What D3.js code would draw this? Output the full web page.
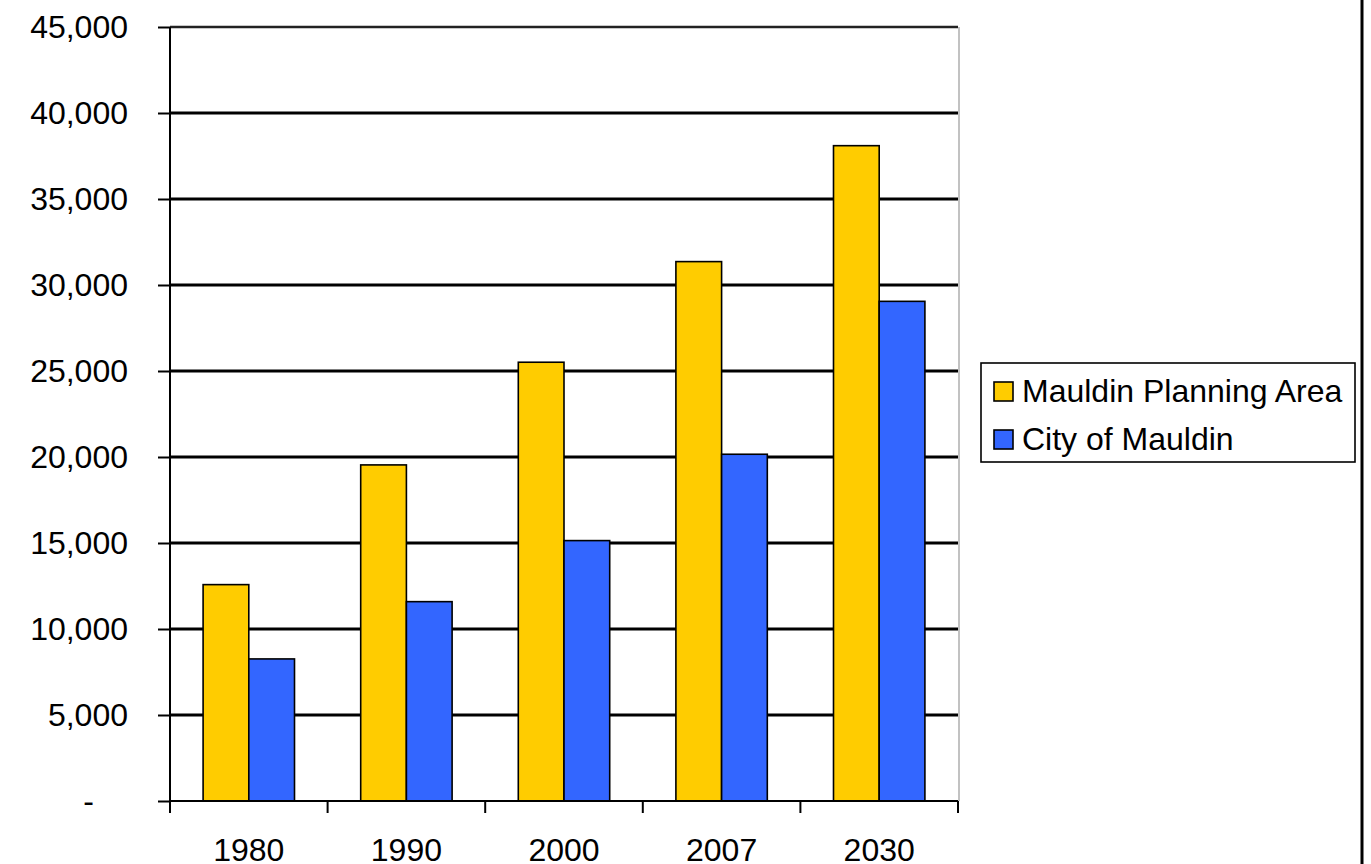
<!DOCTYPE html>
<html>
<head>
<meta charset="utf-8">
<script src="https://cdnjs.cloudflare.com/ajax/libs/d3/7.8.5/d3.min.js"></script>
<style>
  body { margin: 0; background: #fff; }
  text { font-family: "Liberation Sans", Arial, sans-serif; fill: #000; }
</style>
</head>
<body>
<svg id="chart" width="1371" height="864"></svg>
<script>

var years = ["1980", "1990", "2000", "2007", "2030"];
var planningArea = [12580, 19540, 25510, 31360, 38100];
var cityOfMauldin = [8260, 11590, 15140, 20160, 29050];
var seriesNames = ["Mauldin Planning Area", "City of Mauldin"];
var seriesColors = ["#FFCC00", "#3366FF"];
var yTicks = [0, 5000, 10000, 15000, 20000, 25000, 30000, 35000, 40000, 45000];

var svg = d3.select("#chart");
var plotLeft = 170, plotRight = 958, plotTop = 27, plotBottom = 801;

var x0 = d3.scaleBand()
    .domain(years)
    .range([plotLeft, plotRight])
    .paddingInner(0.42)
    .paddingOuter(0.21);

var x1 = d3.scaleBand()
    .domain(d3.range(seriesNames.length))
    .range([0, x0.bandwidth()]);

var y = d3.scaleLinear()
    .domain([0, 45000])
    .range([plotBottom, plotTop]);

// gridlines (behind bars)
svg.append("g")
  .selectAll("line")
  .data(yTicks.filter(function(d) { return d > 0; }))
  .enter().append("line")
    .attr("x1", plotLeft)
    .attr("x2", plotRight)
    .attr("y1", function(d) { return y(d); })
    .attr("y2", function(d) { return y(d); })
    .attr("stroke", function(d) { return d === 45000 ? "#222" : "#000"; })
    .attr("stroke-width", function(d) { return d === 45000 ? 2.5 : 3; });

// right edge of plot area
svg.append("line")
    .attr("x1", plotRight + 1).attr("x2", plotRight + 1)
    .attr("y1", y(45000)).attr("y2", y(0))
    .attr("stroke", "#999")
    .attr("stroke-width", 1.2);

// bars
var rows = years.map(function(yr, i) {
  return { year: yr, values: [planningArea[i], cityOfMauldin[i]] };
});

svg.append("g")
  .selectAll("g")
  .data(rows)
  .enter().append("g")
    .attr("transform", function(d) { return "translate(" + x0(d.year) + ",0)"; })
  .selectAll("rect")
  .data(function(d) { return d.values; })
  .enter().append("rect")
    .attr("x", function(d, i) { return x1(i); })
    .attr("width", x1.bandwidth())
    .attr("y", function(d) { return y(d); })
    .attr("height", function(d) { return y(0) - y(d); })
    .attr("fill", function(d, i) { return seriesColors[i]; })
    .attr("stroke", "#000")
    .attr("stroke-width", 1.6);

// y axis
var yAxis = svg.append("g")
    .attr("transform", "translate(" + plotLeft + ",0)")
    .call(d3.axisLeft(y)
      .tickValues(yTicks)
      .tickSize(12)
      .tickSizeOuter(0)
      .tickPadding(30)
      .tickFormat(function(d) { return d === 0 ? "-" : d3.format(",")(d); }));

yAxis.select(".domain").remove();
yAxis.selectAll(".tick line").attr("stroke", "#000").attr("stroke-width", 2);
yAxis.selectAll("text").style("font-size", "32px");
yAxis.selectAll(".tick").filter(function(d) { return d === 0; })
    .select("text").attr("dx", -34);

// x axis
svg.append("line")
    .attr("x1", plotLeft).attr("x2", plotRight)
    .attr("y1", y(0)).attr("y2", y(0))
    .attr("stroke", "#000").attr("stroke-width", 2);

svg.append("line")
    .attr("x1", plotLeft).attr("x2", plotLeft)
    .attr("y1", y(45000)).attr("y2", y(0) + 12)
    .attr("stroke", "#000").attr("stroke-width", 2);

svg.append("g")
  .selectAll("line")
  .data(d3.range(years.length + 1))
  .enter().append("line")
    .attr("x1", function(i) { return x0.range()[0] + i * x0.step(); })
    .attr("x2", function(i) { return x0.range()[0] + i * x0.step(); })
    .attr("y1", y(0))
    .attr("y2", y(0) + 12)
    .attr("stroke", "#000")
    .attr("stroke-width", 2);

var xAxis = svg.append("g")
    .attr("transform", "translate(0," + y(0) + ")")
    .call(d3.axisBottom(x0).tickSize(0).tickSizeOuter(0));

xAxis.select(".domain").remove();
xAxis.selectAll("text")
    .attr("y", 60)
    .attr("dy", 0)
    .style("font-size", "32px");

// legend
var legend = svg.append("g").attr("transform", "translate(981,363)");

legend.append("rect")
    .attr("width", 374)
    .attr("height", 99)
    .attr("fill", "#fff")
    .attr("stroke", "#000")
    .attr("stroke-width", 1.6);

var item = legend.selectAll(".item")
  .data(seriesNames)
  .enter().append("g")
    .attr("class", "item")
    .attr("transform", function(d, i) { return "translate(0," + (i * 48) + ")"; });

item.append("rect")
    .attr("x", 13).attr("y", 19)
    .attr("width", 19).attr("height", 19)
    .attr("fill", function(d, i) { return seriesColors[i]; })
    .attr("stroke", "#000")
    .attr("stroke-width", 1.6);

item.append("text")
    .attr("x", 41)
    .attr("y", 39)
    .style("font-size", "32px")
    .text(function(d) { return d; });

// outer border on the right
svg.append("line")
    .attr("x1", 1362).attr("x2", 1362)
    .attr("y1", 0).attr("y2", 864)
    .attr("stroke", "#000")
    .attr("stroke-width", 3);

</script>
</body>
</html>
